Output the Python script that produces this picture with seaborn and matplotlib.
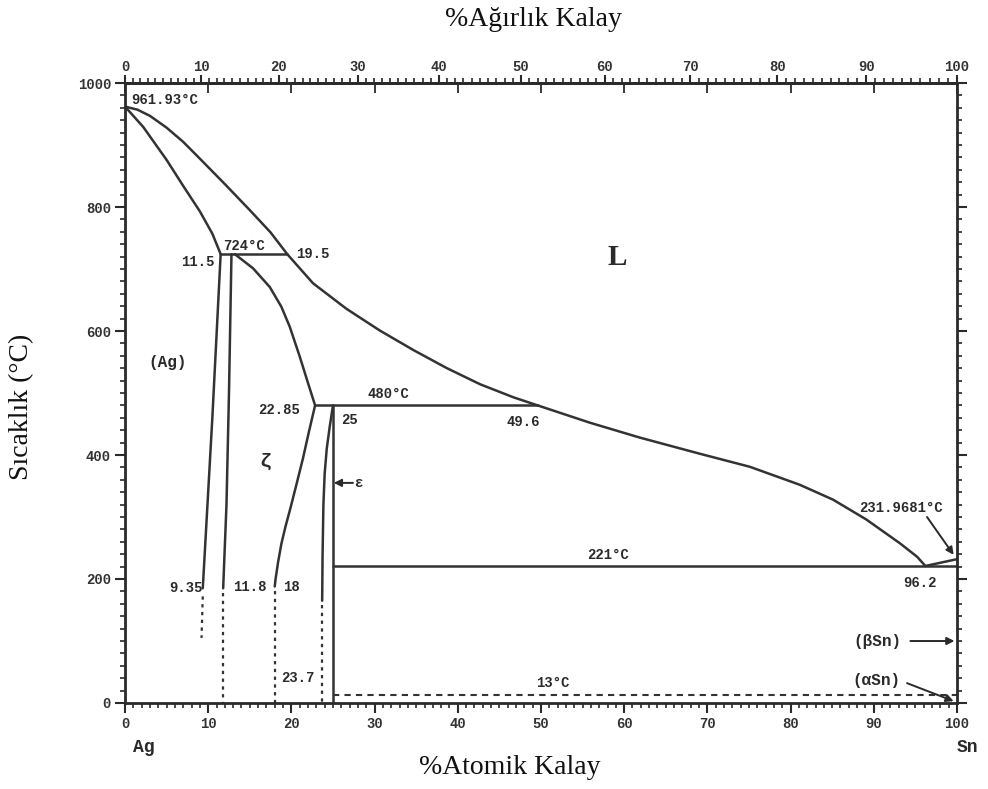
import numpy as np
import pandas as pd
import matplotlib
matplotlib.use("Agg")
import matplotlib.pyplot as plt
from matplotlib.ticker import MultipleLocator, FixedLocator
import seaborn as sns

# ---- Ag-Sn phase diagram data (at.% Sn, temperature in °C) ----
liq_hi_x = [0, 1.5, 3.0, 5.0, 7.0, 9.0, 12.0, 15.0, 17.5, 19.5]
liq_hi_t = [961.93, 957, 947, 928, 905, 878, 837, 795, 759, 724]

sol_ag_x = [0, 1.0, 2.2, 5.0, 7.0, 9.0, 10.5, 11.5]
sol_ag_t = [961.93, 947, 929, 876, 834, 793, 757, 724]

liq_lo_x = [19.5, 22.6, 26.6, 30.6, 34.7, 38.7, 42.7, 46.7, 49.6, 55.9, 61.9,
            69.1, 75.1, 81.1, 85.1, 89.1, 93.1, 95.2, 96.2]
liq_lo_t = [724, 677, 636, 601, 569, 540, 514, 493, 480, 452, 428,
            402, 381, 352, 328, 296, 258, 236, 221]

liq_sn_x = [96.2, 100]
liq_sn_t = [221, 231.968]

solvus_ag_x = [11.5, 10.5, 9.35]
solvus_ag_t = [724, 460, 185]
solvus_ag_dot_x = [9.35, 9.2]
solvus_ag_dot_t = [172, 105]

zeta_left_x = [12.8, 12.5, 12.2, 11.8]
zeta_left_t = [724, 500, 320, 185]
zeta_left_dot_x = [11.8, 11.8]
zeta_left_dot_t = [178, 0]

zeta_right_x = [13.2, 15.4, 17.4, 18.8, 19.8, 21.0, 22.0, 22.85,
                22.1, 21.4, 20.6, 19.9, 19.3, 18.8, 18.4, 18.1, 18.0]
zeta_right_t = [724, 701, 671, 639, 607, 559, 516, 480,
                437, 395, 352, 315, 285, 257, 227, 200, 188]
zeta_right_dot_x = [18.0, 18.0]
zeta_right_dot_t = [180, 0]

eps_left_x = [25.0, 24.6, 24.25, 24.0, 23.85, 23.75, 23.7]
eps_left_t = [480, 445, 410, 370, 320, 240, 165]
eps_left_dot_x = [23.7, 23.7]
eps_left_dot_t = [158, 0]

eps_right_x = [25.0, 25.0]
eps_right_t = [480, 0]

peritectic_724_x = [11.5, 19.5]
peritectic_480_x = [22.85, 49.6]
eutectic_221_x = [25.0, 100.0]
transform_13_x = [25.0, 100.0]
iso_724, iso_480, iso_221, iso_13 = 724, 480, 221, 13

bottom_ticks = list(range(0, 101, 10))
left_ticks = list(range(0, 1001, 200))
top_ticks_wt = list(range(0, 101, 10))

M_AG, M_SN = 107.8682, 118.71


def at_to_wt(a):
    a = np.asarray(a, dtype=float)
    num = a * M_SN
    den = a * M_SN + (100.0 - a) * M_AG
    with np.errstate(divide="ignore", invalid="ignore"):
        return np.where(den == 0, 0.0, 100.0 * num / den)


def wt_to_at(w):
    w = np.asarray(w, dtype=float)
    num = w / M_SN
    den = w / M_SN + (100.0 - w) / M_AG
    with np.errstate(divide="ignore", invalid="ignore"):
        return np.where(den == 0, 0.0, 100.0 * num / den)


sns.set_theme(style="white")
plt.rcParams["font.family"] = ["Liberation Mono", "DejaVu Sans"]
plt.rcParams["font.weight"] = "bold"

LC = "#333333"
LW = 1.8
MONO = ["Liberation Mono", "DejaVu Sans Mono"]
SERIF = ["Liberation Serif", "DejaVu Serif"]

fig = plt.figure(figsize=(9.88, 7.89), dpi=100)
ax = fig.add_axes([0.1265, 0.109, 0.8421, 0.7858])


def curve(xs, ts, ls="-", lw=LW):
    df = pd.DataFrame({"x": xs, "t": ts})
    sns.lineplot(data=df, x="x", y="t", sort=False, estimator=None, ax=ax,
                 color=LC, linewidth=lw, linestyle=ls, legend=False)


curve(liq_hi_x, liq_hi_t)
curve(sol_ag_x, sol_ag_t)
curve(liq_lo_x, liq_lo_t)
curve(liq_sn_x, liq_sn_t)
curve(solvus_ag_x, solvus_ag_t)
curve(zeta_left_x, zeta_left_t)
curve(zeta_right_x, zeta_right_t)
curve(eps_left_x, eps_left_t)
curve(eps_right_x, eps_right_t)
for xs, ts in [(solvus_ag_dot_x, solvus_ag_dot_t), (zeta_left_dot_x, zeta_left_dot_t),
               (zeta_right_dot_x, zeta_right_dot_t), (eps_left_dot_x, eps_left_dot_t)]:
    curve(xs, ts, ls=(0, (1.5, 2.0)), lw=1.6)

curve(peritectic_724_x, [iso_724] * 2)
curve(peritectic_480_x, [iso_480] * 2)
curve(eutectic_221_x, [iso_221] * 2)
curve(transform_13_x, [iso_13] * 2, ls=(0, (3, 2.5)), lw=1.5)

ax.set_xlim(0, 100)
ax.set_ylim(0, 1000)
ax.set_xlabel("")
ax.set_ylabel("")

for sp in ax.spines.values():
    sp.set_linewidth(2.0)
    sp.set_color("#2a2a2a")

ax.xaxis.set_major_locator(FixedLocator(bottom_ticks))
ax.xaxis.set_minor_locator(MultipleLocator(1))
ax.yaxis.set_major_locator(FixedLocator(left_ticks))
ax.yaxis.set_minor_locator(MultipleLocator(20))
ax.tick_params(axis="both", which="major", direction="out", length=7, width=1.5,
               color="#2a2a2a", labelsize=10, pad=3)
ax.tick_params(axis="both", which="minor", direction="out", length=3.5, width=1.2,
               color="#2a2a2a")
ax.tick_params(axis="y", which="both", left=True, right=True, labelright=False)
ax.tick_params(axis="x", which="both", bottom=True, top=False)
for lab in ax.get_xticklabels() + ax.get_yticklabels():
    lab.set_fontfamily(MONO)
    lab.set_fontweight("bold")
    lab.set_color("#333333")

# weight-percent scale along the top
sec = ax.secondary_xaxis("top", functions=(at_to_wt, wt_to_at))
sec.xaxis.set_major_locator(FixedLocator(top_ticks_wt))
sec.xaxis.set_minor_locator(MultipleLocator(1))
sec.tick_params(which="major", direction="out", length=6, width=1.5, color="#2a2a2a",
                labelsize=10, pad=0.5)
sec.tick_params(which="minor", direction="out", length=3.5, width=1.2, color="#2a2a2a")
sec.spines["top"].set_linewidth(2.0)
for lab in sec.get_xticklabels():
    lab.set_fontfamily(MONO)
    lab.set_fontweight("bold")
    lab.set_color("#333333")

# atomic-percent marks pointing inward on the top spine
sec2 = ax.secondary_xaxis("top")
sec2.xaxis.set_major_locator(FixedLocator(bottom_ticks))
sec2.tick_params(which="major", direction="in", length=7, width=1.3, color="#2a2a2a",
                 labeltop=False)
sec2.spines["top"].set_visible(False)

# annotations
txt = dict(color="#2a2a2a", fontfamily=MONO, fontweight="bold", fontsize=10)
ax.text(0.8, 972, "961.93°C", ha="left", va="center", **txt)
ax.text(11.8, 737, "724°C", ha="left", va="center", **txt)
ax.text(10.8, 712, "11.5", ha="right", va="center", **txt)
ax.text(20.6, 725, "19.5", ha="left", va="center", **txt)
ax.text(5.1, 550, "(Ag)", ha="center", va="center", **{**txt, "fontsize": 11.5})
ax.text(16.8, 389, "ζ", ha="center", va="center", **{**txt, "fontsize": 14})
ax.text(21.0, 473, "22.85", ha="right", va="center", **txt)
ax.text(26.0, 457, "25", ha="left", va="center", **txt)
ax.text(29.2, 499, "480°C", ha="left", va="center", **txt)
ax.text(45.9, 454, "49.6", ha="left", va="center", **txt)
ax.text(58.1, 239, "221°C", ha="center", va="center", **txt)
ax.text(9.4, 186, "9.35", ha="right", va="center", **txt)
ax.text(13.0, 187, "11.8", ha="left", va="center", **txt)
ax.text(19.0, 187, "18", ha="left", va="center", **txt)
ax.text(18.8, 40, "23.7", ha="left", va="center", **txt)
ax.text(51.4, 32, "13°C", ha="center", va="center", **txt)
ax.text(93.3, 315, "231.9681°C", ha="center", va="center", **txt)
ax.text(95.5, 193, "96.2", ha="center", va="center", **txt)
ax.text(90.4, 99, "(βSn)", ha="center", va="center", **{**txt, "fontsize": 11.5})
ax.text(90.3, 37, "(αSn)", ha="center", va="center", **{**txt, "fontsize": 11.5})
ax.text(59.1, 718, "L", ha="center", va="center", color="#2a2a2a",
        fontfamily=SERIF, fontsize=21)
ax.text(27.6, 355, "ε", ha="left", va="center", **txt)
ax.text(2.2, -71, "Ag", ha="center", va="center", clip_on=False,
        **{**txt, "fontsize": 13})
ax.text(101.3, -71, "Sn", ha="center", va="center", clip_on=False,
        **{**txt, "fontsize": 13})

arrow = dict(arrowstyle="-|>", color="#2a2a2a", lw=1.4, mutation_scale=11,
             shrinkA=0, shrinkB=0)
ax.annotate("", xy=(25.1, 355), xytext=(27.4, 355), arrowprops=arrow)
ax.annotate("", xy=(99.6, 239), xytext=(96.4, 300), arrowprops=arrow)
ax.annotate("", xy=(99.7, 100), xytext=(94.4, 100), arrowprops=arrow)
ax.annotate("", xy=(99.6, 3), xytext=(94.0, 32), arrowprops=arrow)

# axis titles
fig.text(0.5395, 1 - 20 / 789, "%Ağırlık Kalay", ha="center", va="center",
         fontfamily=SERIF, fontsize=20, fontweight="normal", color="#111111")
fig.text(0.516, 1 - 768 / 789, "%Atomik Kalay", ha="center", va="center",
         fontfamily=SERIF, fontsize=20, fontweight="normal", color="#111111")
fig.text(22 / 988, 1 - 407 / 789, "Sıcaklık (°C)", ha="center", va="center",
         rotation=90, fontfamily=SERIF, fontsize=20, fontweight="normal",
         color="#111111")

fig.savefig("out.png", dpi=100, facecolor="white")
